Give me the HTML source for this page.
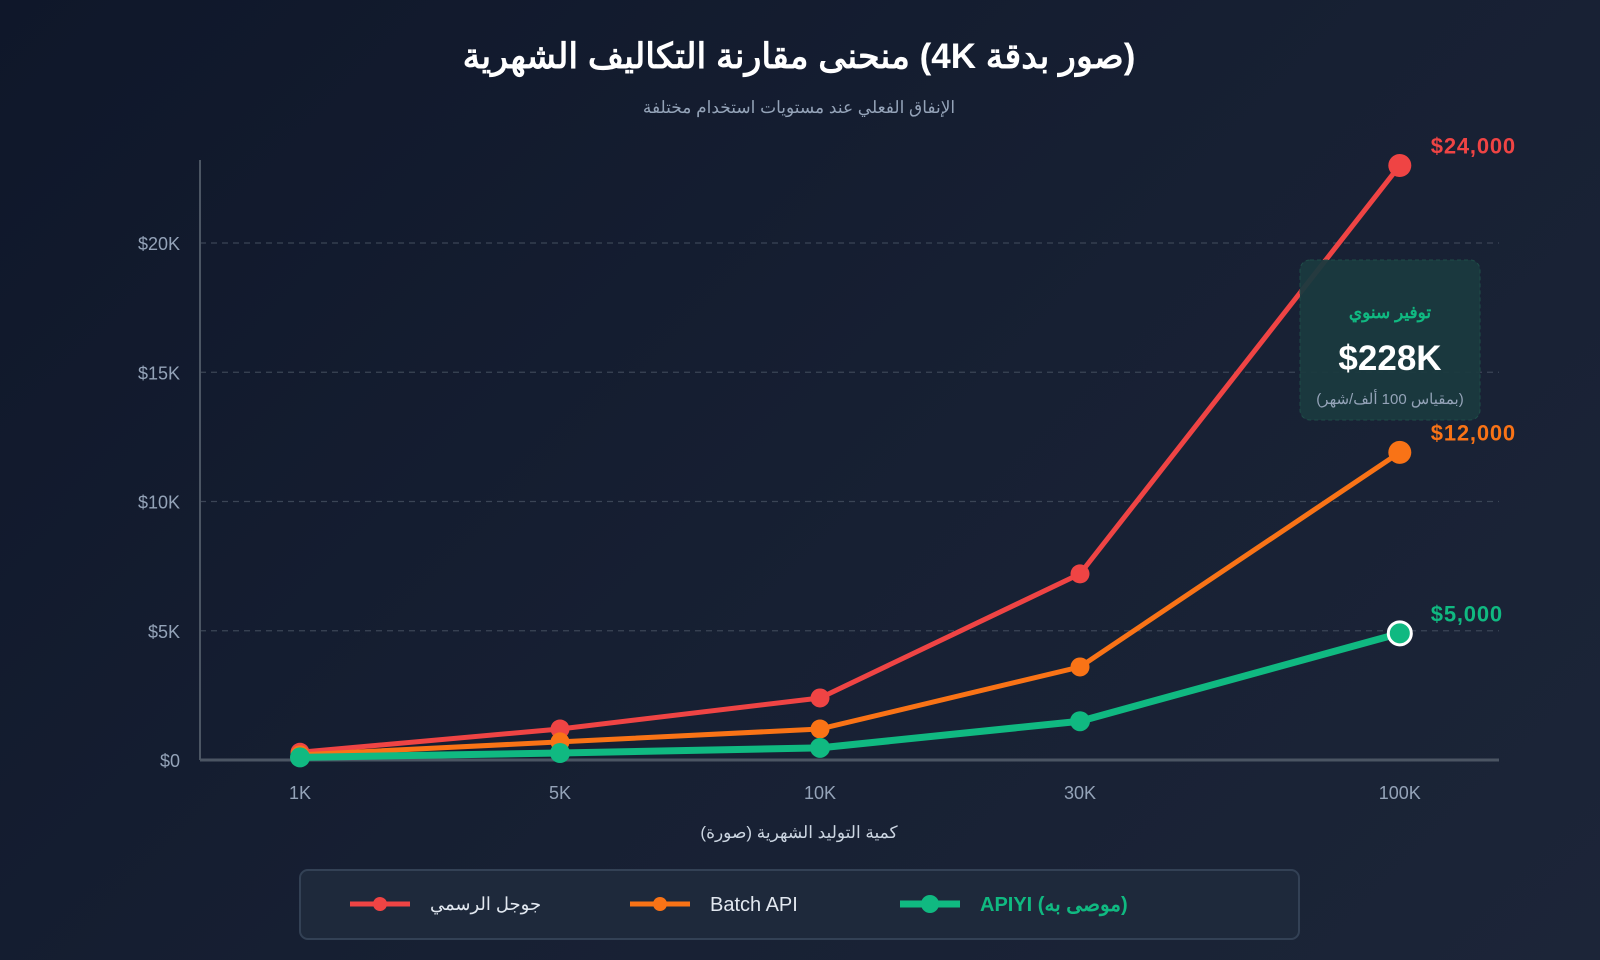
<!DOCTYPE html>
<html><head><meta charset="utf-8"><style>
html,body{margin:0;padding:0}
body{width:1600px;height:960px;overflow:hidden;background:linear-gradient(135deg,#0f172a 0%,#172033 55%,#1c2538 100%);font-family:"Liberation Sans","Noto Sans CJK SC",sans-serif}
</style></head><body>
<svg id="chart" width="1600" height="960" xmlns="http://www.w3.org/2000/svg" style="position:absolute;left:0;top:0;font-family:'Liberation Sans','Noto Sans CJK SC',sans-serif">
<text x="799" y="68" text-anchor="middle" fill="#fff" font-size="35" font-weight="bold">منحنى مقارنة التكاليف الشهرية (4K صور بدقة)</text>
<text x="799" y="113" text-anchor="middle" fill="#94a3b8" font-size="17">الإنفاق الفعلي عند مستويات استخدام مختلفة</text>
<g id="grid"></g><g id="series"></g>
<g>
<rect x="1300" y="260" width="180" height="160" rx="10" fill="#1b3a3f" stroke="#20504a" stroke-dasharray="4 3" opacity="0.95"/>
<text x="1390" y="318" text-anchor="middle" fill="#10b981" font-size="17" font-weight="bold">توفير سنوي</text>
<text x="1390" y="370" text-anchor="middle" fill="#fff" font-size="35" font-weight="bold">$228K</text>
<text x="1390" y="404" text-anchor="middle" fill="#94a3b8" font-size="15">(بمقياس 100 ألف/شهر)</text>
</g>
<text x="799" y="838" text-anchor="middle" fill="#cbd5e1" font-size="17">كمية التوليد الشهرية (صورة)</text>
<g>
<rect x="300" y="870" width="999" height="69" rx="8" fill="#1e293b" stroke="#334155" stroke-width="2"/>
<g><line x1="350" y1="904" x2="410" y2="904" stroke="#ef4444" stroke-width="5"/><circle cx="380" cy="904" r="7" fill="#ef4444"/><text x="430" y="910" fill="#e2e8f0" font-size="18">جوجل الرسمي</text></g>
<g><line x1="630" y1="904" x2="690" y2="904" stroke="#f97316" stroke-width="5"/><circle cx="660" cy="904" r="7" fill="#f97316"/><text x="710" y="911" fill="#e2e8f0" font-size="20">Batch API</text></g>
<g><line x1="900" y1="904" x2="960" y2="904" stroke="#10b981" stroke-width="7"/><circle cx="930" cy="904" r="9" fill="#10b981"/><text x="980" y="911" fill="#10b981" font-size="20" font-weight="bold">APIYI (موصى به)</text></g>
</g>
</svg>
<script>
const categories=["1K","5K","10K","30K","100K"];
const googleVals=[300,1200,2400,7200,23000];
const batchVals=[200,700,1200,3600,11900];
const apiyiVals=[100,270,470,1500,4900];
const yTicks=[0,5000,10000,15000,20000];
const yTickLabels=["$0","$5K","$10K","$15K","$20K"];
const endLabels=["$24,000","$12,000","$5,000"];
const NS="http://www.w3.org/2000/svg";
const y0=760,perUnit=129.25/5000,left=200,right=1499;
function ys(v){return y0-v*perUnit;}
function xs(i){return 300+(i+(i===categories.length-1?0.23:0))*260;}
function mk(t,a,p){const e=document.createElementNS(NS,t);for(const k in a)e.setAttribute(k,a[k]);p.appendChild(e);return e;}
const grid=document.getElementById('grid');
yTicks.forEach((v,i)=>{
 if(v>0){const l=mk('line',{x1:left,x2:right,y1:ys(v),y2:ys(v),stroke:'#3b4556','stroke-dasharray':'6 5','stroke-width':1.2},grid);
 
 }
 const t=mk('text',{x:180,y:ys(v)+7,'text-anchor':'end',fill:'#94a3b8','font-size':18},grid);t.textContent=yTickLabels[i];
 
 
});
const ya=mk('line',{x1:left,x2:left,y1:160,y2:y0,stroke:'#4b5563','stroke-width':2},grid);


const xa=mk('line',{x1:left,x2:right,y1:y0,y2:y0,stroke:'#4b5563','stroke-width':3},grid);


categories.forEach((c,i)=>{const t=mk('text',{x:xs(i),y:799,'text-anchor':'middle',fill:'#94a3b8','font-size':18},grid);t.textContent=c;
 
 });
const sg=document.getElementById('series');
const series=[[googleVals,'#ef4444',5,9.5,'google'],[batchVals,'#f97316',5,9.5,'batch'],[apiyiVals,'#10b981',7,10,'apiyi']];
series.forEach((s,si)=>{
 const [vals,col,w,r,nm]=s;
 const p=mk('polyline',{points:vals.map((v,i)=>xs(i)+','+ys(v)).join(' '),fill:'none',stroke:col,'stroke-width':w,'stroke-linejoin':'round'},sg);
 
 
 vals.forEach((v,i)=>{const last=i===vals.length-1;
  const c=mk('circle',{cx:xs(i),cy:ys(v),r:last?11.5:r,fill:col},sg);
  if(last&&nm==='apiyi'){c.setAttribute('stroke','#fff');c.setAttribute('stroke-width',3);}
  
  
 });
 const li=vals.length-1;
 const t=mk('text',{x:xs(li)+31,y:ys(vals[li])-12,fill:col,'font-size':22,'font-weight':'bold','letter-spacing':'0.8'},sg);t.textContent=endLabels[si];
 
 
});
</script>
</body></html>
